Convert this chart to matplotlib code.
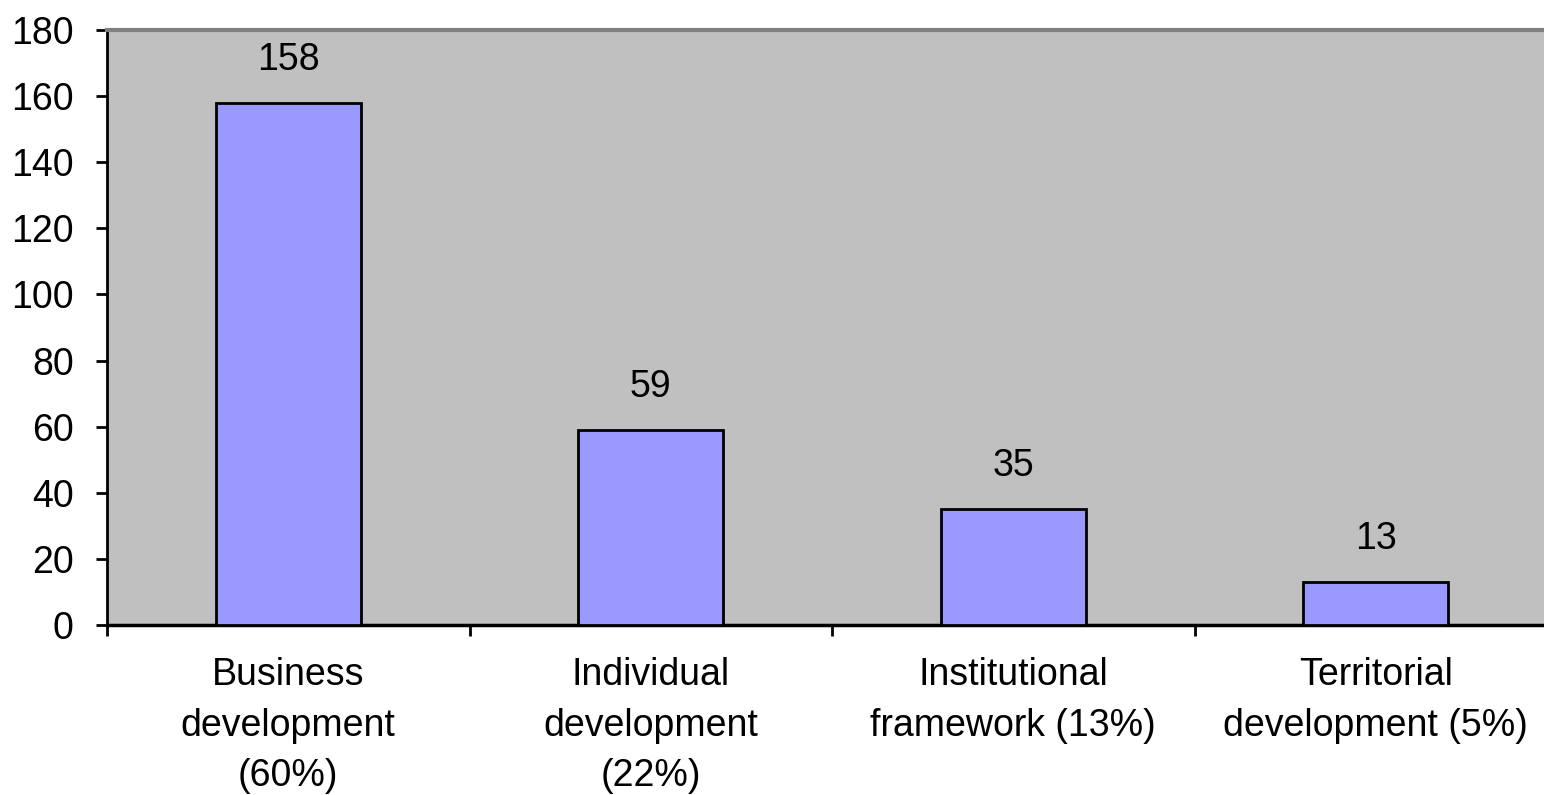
import matplotlib
matplotlib.use("Agg")
import matplotlib.pyplot as plt
import numpy as np

categories = ["Business\ndevelopment\n(60%)", "Individual\ndevelopment\n(22%)",
              "Institutional\nframework (13%)", "Territorial\ndevelopment (5%)"]
values = [158, 59, 35, 13]

plt.rcParams['font.family'] = ['Liberation Sans', 'DejaVu Sans']

W, H = 1544, 795
fig = plt.figure(figsize=(W / 100, H / 100), dpi=100)
ax = fig.add_axes([107 / W, (H - 625) / H, 1450 / W, 595 / H])
ax.set_facecolor('#C0C0C0')

x = np.arange(len(values))
ax.bar(x, values, width=0.4, color='#9999FF', edgecolor='black', linewidth=2, zorder=3)
for xi, v in zip(x, values):
    ax.annotate(str(v), (xi, v), xytext=(0, 18), textcoords='offset points',
                ha='center', va='bottom', fontsize=27)

ax.set_xlim(-0.5, len(values) - 0.5)
ax.set_ylim(0, 180)
ax.set_yticks(np.arange(0, 181, 20))
ax.tick_params(axis='y', labelsize=27, length=8, width=2, pad=16, direction='out')

# category labels centred on bars, tick marks on the boundaries
ax.set_xticks(x)
ax.set_xticklabels(categories, fontsize=27, linespacing=1.52)
ax.tick_params(axis='x', length=0, pad=23)
ax.set_xticks(np.arange(-0.5, len(values), 1), minor=True)
ax.tick_params(axis='x', which='minor', length=8, width=2, direction='out')

ax.spines['left'].set_linewidth(2)
ax.spines['bottom'].set_linewidth(2.5)
ax.spines['top'].set_color('#808080')
ax.spines['top'].set_linewidth(3)
ax.spines['right'].set_visible(False)

fig.savefig('out.png', dpi=100)
